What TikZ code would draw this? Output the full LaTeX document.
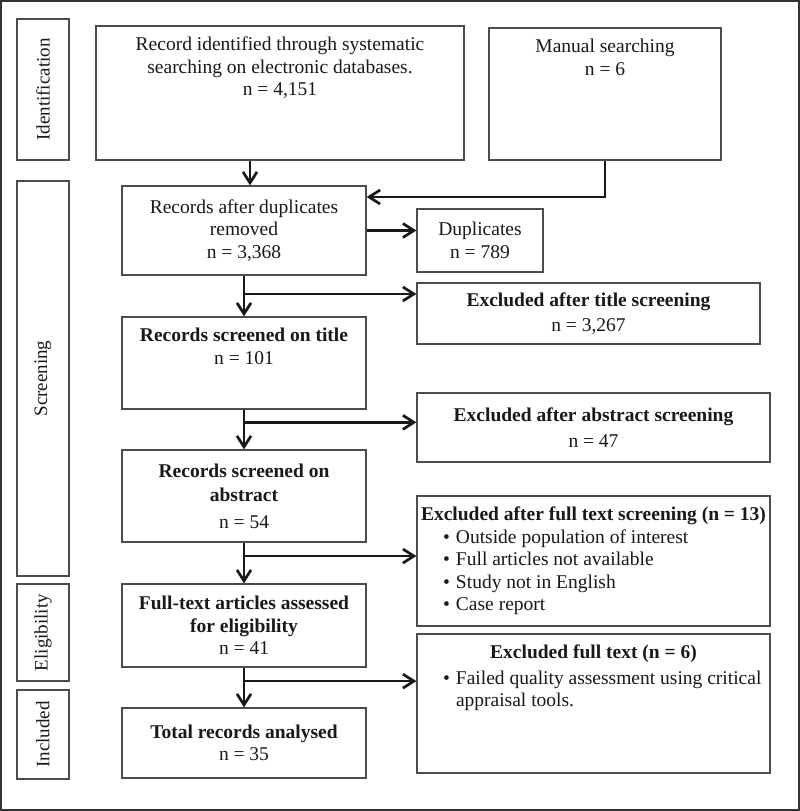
\documentclass[tikz,border=0pt]{standalone}
\usepackage{fontspec}
\setmainfont{Liberation Serif}
\usetikzlibrary{arrows.meta,calc}

\newcommand{\topbox}[3]{\parbox[c][#2][t]{#1}{\centering\vspace*{11pt}#3}}
\newcommand{\bul}{\hspace*{24pt}\makebox[13pt][l]{\textbullet}}

\begin{document}
\begin{tikzpicture}[x=1pt,y=-1pt,
    box/.style={draw=black!70, line width=1.2pt, inner sep=0pt, align=center, text=black!90,
      font=\fontsize{19.5}{22.5}\selectfont},
    side/.style={box, rotate=90, font=\fontsize{19}{22}\selectfont},
    flow/.style={draw=black!90, line width=2.7pt, -{Straight Barb[length=11pt,width=14pt]}}]
  \fill[white] (0,0) rectangle (800,811);
  \useasboundingbox (0,0) rectangle (800,811);
  \draw[black!80, line width=2pt] (1,1) rectangle (799,810);

  % stage labels
  \node[side, minimum width=141pt, minimum height=52pt] (ident) at (43,89.5) {Identification};
  \node[side, minimum width=395pt, minimum height=52pt] (screen) at (43,378.5) {Screening};
  \node[side, minimum width=97pt, minimum height=52pt] (elig) at (43,632.5) {Eligibility};
  \node[side, minimum width=89pt, minimum height=52pt] (incl) at (43,734.5) {Included};

  % identification
  \node[box, minimum width=368pt, minimum height=134pt] (rec) at (280,93)
    {\topbox{360pt}{134pt}{Record identified through systematic\\ searching on electronic databases.\\ n = 4,151}};
  \node[box, minimum width=232pt, minimum height=132pt] (man) at (605,94)
    {\topbox{224pt}{132pt}{Manual searching\\ n = 6}};

  % screening
  \node[box, minimum width=244pt, minimum height=89pt] (dedup) at (244,230.5) {Records after duplicates\\ removed\\ n = 3,368};
  \node[box, minimum width=126pt, minimum height=63pt] (dupl) at (480,240.5) {Duplicates\\ n = 789};
  \node[box, minimum width=343pt, minimum height=61pt] (extitle) at (588.5,313.5) {\textbf{Excluded after title screening}\\[3pt] n = 3,267};
  \node[box, minimum width=244pt, minimum height=92pt] (rtitle) at (244,363)
    {\topbox{236pt}{92pt}{\textbf{Records screened on title}\\ n = 101}};
  \node[box, minimum width=353pt, minimum height=69pt] (exabs) at (593.5,427.5) {\textbf{Excluded after abstract screening}\\[3pt] n = 47};
  \node[box, minimum width=244pt, minimum height=92pt] (rabs) at (244,496) {\textbf{Records screened on}\\[2pt] \textbf{abstract}\\[4pt] n = 54};
  \node[box, minimum width=353pt, minimum height=130pt] (exft) at (593.5,561)
    {\parbox{349pt}{\centering\textbf{Excluded after full text screening (n = 13)}\par\raggedright
      \bul Outside population of interest\par
      \bul Full articles not available\par
      \bul Study not in English\par
      \bul Case report}};

  % eligibility and included
  \node[box, minimum width=244pt, minimum height=83pt] (ftext) at (244,625.5) {\textbf{Full-text articles assessed}\\ \textbf{for eligibility}\\ n = 41};
  \node[box, minimum width=353pt, minimum height=139pt] (exfull) at (593.5,703.5)
    {\topbox{349pt}{139pt}{\textbf{Excluded full text (n = 6)}\par\vspace{3pt}\raggedright
      \bul Failed quality assessment using critical\\ \hspace*{37pt}appraisal tools.}};
  \node[box, minimum width=244pt, minimum height=70pt] (total) at (244,743) {\textbf{Total records analysed}\\ n = 35};

  % main flow
  \draw[flow] ([xshift=-30pt]rec.south) -- ([xshift=-30pt]rec.south |- dedup.north);
  \draw[flow] (man.south) |- ([yshift=33.5pt]dedup.east);
  \draw[flow] (dedup.east) -- (dedup.east -| dupl.west);
  \draw[flow] (dedup.south) -- (rtitle.north);
  \draw[flow] (rtitle.south) -- (rabs.north);
  \draw[flow] (rabs.south) -- (ftext.north);
  \draw[flow] (ftext.south) -- (total.north);

  % exclusions
  \coordinate (b1) at ($(dedup.south)!0.45!(rtitle.north)$);
  \coordinate (b2) at ($(rtitle.south)!0.32!(rabs.north)$);
  \coordinate (b3) at ($(rabs.south)!0.33!(ftext.north)$);
  \coordinate (b4) at ($(ftext.south)!0.34!(total.north)$);
  \draw[flow] (b1) -- (b1 -| extitle.west);
  \draw[flow] (b2) -- (b2 -| exabs.west);
  \draw[flow] (b3) -- (b3 -| exft.west);
  \draw[flow] (b4) -- (b4 -| exfull.west);
\end{tikzpicture}
\end{document}
